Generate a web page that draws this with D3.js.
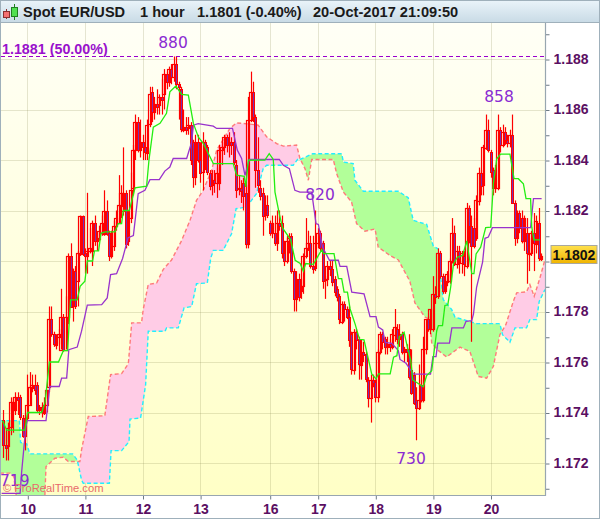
<!DOCTYPE html>
<html><head><meta charset="utf-8">
<script src="https://cdn.jsdelivr.net/npm/d3@7/dist/d3.min.js"></script>
<style>html,body{margin:0;padding:0;background:#fff;overflow:hidden}svg{display:block}text{font-family:"Liberation Sans",Arial,sans-serif}</style>
</head><body><svg id="c" width="600" height="519"></svg>
<script>
// Prices are in units of 0.0001 (11737 = 1.1737). Bars run hour by hour, first bar index -10.
const firstBar=-10;
const opens=[11737,11727,11727,11734,11741,11741,11746,11746,11738,11731,11738,11743,11750,11751,11751,11741,11742,11740,11743,11750,11777,11771,11767,11770,11765,11778,11765,11778,11802,11782,11796,11792,11803,11818,11803,11802,11804,11804,11815,11808,11809,11811,11811,11820,11811,11802,11806,11814,11815,11822,11820,11827,11808,11817,11829,11844,11855,11844,11847,11845,11843,11854,11867,11859,11862,11862,11865,11866,11874,11871,11876,11873,11878,11870,11868,11852,11853,11853,11854,11847,11833,11847,11840,11835,11847,11845,11835,11830,11832,11831,11831,11844,11845,11849,11846,11847,11847,11838,11829,11829,11831,11827,11807,11856,11867,11857,11836,11829,11827,11818,11822,11815,11811,11811,11807,11815,11815,11803,11800,11808,11810,11796,11785,11793,11788,11790,11802,11805,11807,11798,11797,11807,11811,11807,11793,11793,11798,11797,11793,11789,11786,11776,11783,11781,11778,11771,11757,11772,11769,11759,11764,11763,11753,11746,11753,11752,11746,11764,11771,11769,11766,11767,11766,11771,11773,11769,11771,11764,11765,11765,11757,11755,11745,11742,11751,11745,11765,11777,11773,11773,11787,11786,11803,11794,11788,11792,11792,11800,11811,11799,11804,11799,11802,11798,11821,11814,11813,11809,11824,11835,11830,11845,11852,11843,11836,11829,11829,11852,11846,11851,11848,11847,11850,11823,11809,11819,11817,11808,11811,11803,11803,11811,11807,11815,11801];
const highs=[11741,11733,11736,11746,11746,11748,11748,11747,11739,11739,11755,11756,11755,11755,11752,11743,11744,11746,11749,11782,11782,11772,11771,11773,11789,11779,11786,11803,11807,11797,11798,11804,11818,11818,11805,11827,11813,11816,11818,11811,11814,11818,11828,11824,11812,11812,11816,11820,11834,11830,11845,11828,11820,11835,11846,11858,11857,11856,11850,11848,11856,11869,11869,11865,11868,11866,11872,11876,11875,11877,11878,11881,11881,11871,11869,11860,11857,11857,11855,11848,11850,11850,11847,11851,11848,11846,11836,11836,11836,11837,11846,11847,11850,11850,11851,11849,11851,11840,11834,11832,11833,11830,11865,11875,11871,11858,11849,11832,11829,11826,11826,11816,11818,11818,11820,11820,11818,11808,11810,11811,11811,11797,11796,11795,11793,11803,11817,11812,11810,11810,11820,11813,11812,11808,11794,11800,11800,11800,11794,11790,11787,11784,11784,11782,11782,11772,11773,11773,11770,11769,11768,11764,11754,11755,11755,11753,11765,11772,11772,11770,11770,11769,11773,11781,11775,11775,11772,11766,11767,11771,11765,11756,11750,11759,11753,11770,11777,11778,11781,11794,11790,11805,11804,11795,11793,11796,11801,11817,11814,11806,11806,11804,11804,11823,11822,11818,11817,11826,11837,11836,11846,11858,11856,11844,11837,11838,11858,11853,11854,11853,11850,11852,11858,11824,11820,11820,11820,11818,11817,11809,11812,11819,11818,11821,11803];
const lows=[11722,11721,11721,11731,11732,11739,11739,11737,11730,11725,11737,11743,11748,11747,11740,11739,11738,11739,11740,11748,11770,11766,11765,11767,11765,11764,11765,11775,11782,11776,11781,11782,11802,11802,11795,11795,11803,11798,11806,11804,11808,11810,11810,11810,11800,11801,11804,11812,11815,11817,11818,11805,11806,11815,11826,11840,11843,11841,11840,11840,11840,11853,11855,11856,11858,11858,11858,11860,11868,11869,11870,11871,11868,11856,11851,11851,11850,11850,11838,11829,11830,11839,11831,11828,11836,11834,11828,11826,11827,11825,11828,11838,11842,11843,11841,11842,11838,11825,11826,11823,11820,11805,11805,11855,11855,11829,11827,11824,11810,11816,11817,11810,11809,11806,11804,11812,11801,11798,11799,11803,11795,11780,11780,11784,11785,11787,11801,11804,11797,11795,11796,11805,11804,11789,11785,11790,11794,11790,11786,11784,11775,11775,11776,11777,11766,11755,11755,11765,11753,11753,11760,11752,11742,11736,11750,11744,11744,11763,11765,11763,11763,11764,11765,11768,11767,11766,11763,11760,11760,11753,11747,11743,11729,11741,11744,11744,11763,11772,11771,11772,11783,11785,11793,11787,11787,11790,11791,11799,11798,11797,11795,11795,11794,11797,11807,11768,11805,11808,11822,11826,11826,11844,11843,11833,11826,11827,11828,11843,11845,11846,11845,11845,11823,11806,11807,11811,11807,11804,11791,11796,11802,11796,11803,11800,11800];
const closes=[11727,11726,11734,11744,11744,11746,11745,11738,11731,11738,11743,11750,11751,11749,11741,11742,11740,11743,11749,11777,11771,11767,11770,11771,11778,11765,11778,11802,11782,11796,11782,11803,11818,11803,11802,11804,11805,11815,11808,11809,11812,11815,11820,11811,11802,11811,11814,11817,11822,11827,11827,11807,11817,11828,11844,11855,11844,11847,11845,11843,11854,11866,11859,11862,11861,11865,11864,11874,11871,11876,11873,11878,11870,11869,11852,11853,11852,11854,11840,11833,11847,11840,11835,11847,11845,11835,11830,11832,11831,11835,11844,11845,11849,11846,11847,11846,11839,11828,11829,11828,11826,11807,11856,11867,11857,11836,11830,11826,11818,11822,11818,11811,11815,11807,11815,11814,11803,11800,11808,11809,11796,11785,11793,11786,11790,11802,11805,11807,11798,11797,11807,11811,11805,11792,11793,11798,11797,11792,11788,11786,11777,11783,11781,11778,11769,11757,11772,11769,11759,11764,11763,11753,11746,11753,11752,11746,11764,11771,11768,11766,11767,11766,11771,11774,11769,11771,11764,11765,11764,11754,11748,11744,11742,11745,11745,11765,11777,11773,11781,11787,11786,11803,11794,11788,11792,11795,11800,11811,11799,11804,11801,11803,11799,11821,11814,11806,11806,11824,11835,11830,11845,11852,11844,11835,11829,11836,11852,11846,11851,11848,11847,11850,11823,11809,11819,11813,11808,11817,11803,11803,11811,11807,11816,11801,11802];

const tickDays=["10","11","12","13","16","17","18","19","20"];
const tickBars=[0,24,48,72,101,121,145,169,193];
const priceTicks=[1.171,1.172,1.173,1.174,1.175,1.176,1.177,1.178,1.179,1.180,1.181,1.182,1.183,1.184,1.185,1.186,1.187,1.188,1.189];
const priceLabels=[1.172,1.174,1.176,1.178,1.182,1.184,1.186,1.188];

const tenkanBar=[-10.3,-8.6,-1,0.1,6,7.4,9.2,13,15,16.8,18,20.8,22,24,25,27.2,28,29.7,30.7,32.4,36.5,37.9,39.3,40,42.5,44.9,49.7,50.7,52.5,55.3,58,59.4,61.9,64.3,67.1,69.2,71.3,73.4,77.5,85.8,87.2,90.4,91,92.1,99,100.8,102.5,103.2,105,106.4,109.7,111.6,113.7,115,116,119.2,121.3,122.7,123.4,127.8,129.6,131,132,133.4,134.5,136.6,138.4,140.3,143.5,145.3,146.3,151.2,152.6,154,155,157,158.4,159.8,160.6,165,166.4,168.5,170.6,171.3,173,174,175.2,176.4,177.6,179.2,181.4,183.1,185.2,186.1,187,188.9,191,193.1,194.2,195.6,197.2,201.1,202.8,204.6,206.7,207.8,209.7,210.2,211.1,213.6];
const tenkanVal=[11736.7,11733,11733,11740,11740,11744,11760,11760,11764.5,11764.5,11784.6,11784.6,11790,11792,11800,11800,11804,11804,11811,11811.5,11811.5,11814.8,11814.8,11820,11820,11829,11829.6,11840,11853,11854.5,11858.5,11867,11869.3,11866,11865.7,11854.5,11849,11846.5,11838.6,11838.6,11834,11833.5,11829.3,11839.9,11840,11842.5,11840.2,11827.3,11818.7,11813,11808.5,11800.3,11799,11796,11799,11798.7,11802.2,11804.5,11802.9,11802.9,11793,11793,11787.7,11787.7,11781,11775,11769,11768.8,11755.3,11753.3,11755.3,11755.3,11761.9,11762.5,11770,11771.8,11765.8,11760.5,11752.9,11750.2,11754.6,11756.6,11772.4,11774.4,11774.4,11782.4,11782.6,11789.6,11798.9,11801.5,11802.2,11808,11795,11795,11802.8,11805.5,11813.2,11813.4,11830.6,11840.5,11842.3,11842.3,11832.6,11832.6,11830.6,11824.7,11824.7,11813.4,11808.4,11808.4];
const kijunBar=[-10.7,-3,-2.4,-0.6,0,7.8,9.4,13.3,14.3,16.4,17.3,20.8,22.6,25,31,33.3,34.7,37.2,39.7,42,44.2,46.2,49,51.1,55,57.3,59.4,60.8,66.4,68.5,69.2,71.2,77.5,78.9,85.5,87.5,89.3,90.7,92.5,105,106.7,109.2,111.5,113.6,118.5,120.3,121.3,123,125.9,129.6,130.3,133.1,135.2,140.3,142.8,145.3,146.3,148.1,149.1,151.9,154.6,155.3,157.8,160.9,168,169,170.3,171,175.9,176.9,181.7,182.8,185.2,185.9,187.2,189.7,190.7,192.1,193.8,209.7,210.9,214.3];
const kijunVal=[11708,11708,11716,11734.4,11736.8,11736.8,11750.3,11750.3,11753.6,11753.6,11764.9,11765.9,11772.2,11782.5,11782.7,11785.4,11794.6,11795,11801,11809.2,11810.1,11826.7,11828,11832.2,11832.2,11835.6,11837.2,11840.6,11840.6,11847.2,11853.8,11854.4,11853.4,11852.5,11852.5,11843.9,11840.6,11833.9,11840.2,11840.2,11837.9,11836.6,11828,11827.3,11827.3,11814.8,11814.5,11805.5,11800.3,11800.3,11797.9,11797.9,11787.7,11787,11778,11778,11773.8,11772.7,11767.8,11767.4,11764.5,11761,11759.5,11755.2,11755.2,11762.1,11762.1,11767.5,11767.5,11773.5,11773.5,11776.1,11776.4,11779,11789.6,11799.5,11809,11809.5,11813.2,11813.2,11824.7,11824.7];
const spanBBar=[-11.4,-3.3,-2.8,-0.3,1.1,18.9,20.8,22.6,23.3,34.2,34.9,39.3,42.4,42.8,47.2,49.3,50.4,57.4,58,62.9,65.3,68.5,70.5,75,76.4,77.5,81.6,85.1,87,91.4,95.5,98.3,99.7,110.8,112.9,113.6,118.9,131,131.7,135.8,136.5,140,154.6,158.7,160.8,166.4,169.2,171.2,171.9,173.3,176.8,178.2,187.2,196.9,198,201.1,203.2,208,209.4,212.2,213.3,215.7];
const spanBVal=[11736.8,11736.8,11728.1,11727.6,11723.6,11723.6,11721.2,11713.3,11712,11712,11724.9,11724.9,11728.5,11737.4,11737.8,11751,11772.2,11772.2,11773.5,11773.5,11781.4,11782,11791,11791.3,11801,11804.2,11804.2,11810.8,11820.7,11821.4,11826.7,11836.6,11837.9,11837.9,11840.6,11840.2,11842.5,11842.5,11839.2,11838.6,11832,11827.6,11827.6,11825.1,11816.1,11814.5,11805.8,11804.8,11796.6,11784.7,11780.8,11777.8,11775.2,11775.2,11770.8,11767.8,11773.5,11773.5,11776.8,11776.8,11784,11788.7];
const spanABar=[-11.4,-7.2,-5.6,-4.7,-4.2,7,7.4,7.8,11.5,15,17.1,21.9,22.6,25.4,32.3,34.7,39.3,42.1,43.5,47.6,48.3,50.4,53.9,56.6,60.1,64.3,67.8,70.5,73.3,76.8,78.9,84.4,87.2,92.8,96.2,99.7,103.9,106.7,112.2,113.6,115.7,117.1,118.5,127.5,128.9,131.7,135.1,137.2,140.7,144.9,146.2,151.1,154.6,159.4,161.5,165.7,167.8,168.5,171.2,174.7,180.3,184.4,187.9,191.4,194.2,196.9,199.4,202.5,203.9,208,209.4,211.2,213.6,215.7];
const spanAVal=[11716,11716,11714.6,11708,11700,11700,11709,11718.6,11721.9,11722.3,11720.6,11720.6,11725.2,11738.4,11738.7,11755,11755.4,11759.3,11775.5,11775.5,11780.8,11790.7,11791.3,11796.6,11800.4,11808.1,11816.1,11824,11828,11835.9,11843.9,11852.5,11854.7,11854.2,11853.8,11849.2,11846.5,11845.5,11845.9,11840.6,11836.6,11832,11840.2,11840.2,11834.6,11827.3,11823.4,11814.8,11811.8,11812.7,11805.5,11802.2,11800.4,11792,11783.4,11777.8,11776.8,11767.5,11764.6,11762,11765.9,11764.2,11754.3,11753.6,11758.3,11770.8,11774.8,11784,11787.4,11787.8,11790.7,11786,11793.3,11800.6];

const notes=[["880",173,47.5],["858",499,101.5],["820",320,199.5],["730",411,463.5],["719",0,486]];
const lastPrice=1.1802, retrace=1.1881;

const svg=d3.select("#c"), L=1, R=545, T=23, B=495;
const x=d3.scaleLinear().domain([0,193]).range([27.3,490.5]);
const y=d3.scaleLinear().domain([1.188,1.172]).range([59,463]);
const p=v=>y(v/1e4);
const defs=svg.append("defs");
const g1=defs.append("linearGradient").attr("id","bg").attr("x1",0).attr("x2",0).attr("y1",0).attr("y2",1);
g1.append("stop").attr("offset",0).attr("stop-color","#fffff6");g1.append("stop").attr("offset",1).attr("stop-color","#ffffc6");
const g2=defs.append("linearGradient").attr("id","hd").attr("x1",0).attr("x2",0).attr("y1",0).attr("y2",1);
g2.append("stop").attr("offset",0).attr("stop-color","#eaf4fa");g2.append("stop").attr("offset",1).attr("stop-color","#c9dbe6");
const g3=defs.append("linearGradient").attr("id","tag").attr("x1",0).attr("x2",0).attr("y1",0).attr("y2",1);
g3.append("stop").attr("offset",0).attr("stop-color","#ffe14d");g3.append("stop").attr("offset",1).attr("stop-color","#f0b400");
defs.append("clipPath").attr("id","plot").append("rect").attr("x",L).attr("y",T).attr("width",R-L).attr("height",B-T);

svg.append("rect").attr("x",L).attr("y",T).attr("width",R-L).attr("height",B-T).attr("fill","url(#bg)");
// grid
const grid=svg.append("g").attr("stroke","#8a8a50").attr("stroke-opacity",.22).attr("stroke-width",1);
grid.selectAll(".v").data(tickBars).join("line").attr("x1",d=>Math.round(x(d))+.5).attr("x2",d=>Math.round(x(d))+.5).attr("y1",T).attr("y2",B);
grid.selectAll(".h").data(d3.range(1.172,1.1881,.002)).join("line").attr("x1",L).attr("x2",R).attr("y1",d=>Math.round(y(d))+.5).attr("y2",d=>Math.round(y(d))+.5);

// cloud
const sA=d3.scaleLinear().domain(spanABar).range(spanAVal);
const sB=d3.scaleLinear().domain(spanBBar).range(spanBVal);
const merged=Array.from(new Set(spanABar.concat(spanBBar))).sort(d3.ascending);
const above=d3.area().x(d=>x(d)).y0(T-10).y1(d=>p(sB(d)));
const below=d3.area().x(d=>x(d)).y0(B+50).y1(d=>p(sB(d)));
defs.append("clipPath").attr("id","aboveB").append("path").attr("d",above(merged));
defs.append("clipPath").attr("id","belowB").append("path").attr("d",below(merged));
const band=d3.area().x(d=>x(d)).y0(d=>p(sA(d))).y1(d=>p(sB(d)));
const plot=svg.append("g").attr("clip-path","url(#plot)");
plot.append("g").attr("clip-path","url(#aboveB)").append("path").attr("d",band(merged)).attr("fill","#ffcce6");
plot.append("g").attr("clip-path","url(#belowB)").append("path").attr("d",band(merged)).attr("fill","#b2ff99");
const ln=d3.line().x(d=>x(d[0])).y(d=>p(d[1]));
plot.append("path").attr("d",ln(d3.zip(spanABar,spanAVal))).attr("fill","none").attr("stroke","#ff7a7a").attr("stroke-width",1.4).attr("stroke-dasharray","4,2.5");
plot.append("path").attr("d",ln(d3.zip(spanBBar,spanBVal))).attr("fill","none").attr("stroke","#22eeff").attr("stroke-width",1.4).attr("stroke-dasharray","4,2.5");

// candles
const snap=v=>Math.round(v)+.5;
const bars=opens.map((o,k)=>({i:firstBar+k,o,h:highs[k],l:lows[k],c:closes[k]}));
const cg=plot.append("g");
cg.selectAll("line").data(bars).join("line").attr("x1",d=>snap(x(d.i))).attr("x2",d=>snap(x(d.i))).attr("y1",d=>p(d.h)).attr("y2",d=>p(d.l)).attr("stroke","#ff0000").attr("stroke-width",1.2);
// rising bodies first, so the falling bodies' purple centres stay visible on top
const rising=bars.filter(d=>d.c>=d.o), falling=bars.filter(d=>d.c<d.o);
const bodyY=d=>snap(p(Math.max(d.o,d.c))), bodyH=d=>Math.max(1,Math.round(Math.abs(p(d.o)-p(d.c))));
cg.selectAll(".up").data(rising).join("rect").attr("x",d=>snap(x(d.i))-2).attr("width",3).attr("y",bodyY).attr("height",bodyH).attr("fill","none").attr("stroke","#ff0000").attr("stroke-width",1.2);
cg.selectAll(".dn").data(falling).join("rect").attr("x",d=>snap(x(d.i))-1).attr("width",2).attr("y",bodyY).attr("height",bodyH).attr("fill","#7a2fb0").attr("stroke","#ff0000").attr("stroke-width",1);

// indicator lines
plot.append("path").attr("d",ln(d3.zip(kijunBar,kijunVal))).attr("fill","none").attr("stroke","#9933cc").attr("stroke-width",1.3);
plot.append("path").attr("d",ln(d3.zip(tenkanBar,tenkanVal))).attr("fill","none").attr("stroke","#22ee11").attr("stroke-width",1.3);

// retracement line
svg.append("line").attr("x1",L).attr("x2",R).attr("y1",snap(y(retrace))).attr("y2",snap(y(retrace))).attr("stroke","#9900cc").attr("stroke-dasharray","4,3");
svg.append("text").attr("x",2).attr("y",53.5).attr("font-size",14.3).attr("font-weight","bold").attr("fill","#9911cc").text("1.1881 (50.00%)");
svg.selectAll(".note").data(notes).join("text").attr("x",d=>d[1]).attr("y",d=>d[2]).attr("text-anchor",d=>d[1]<5?"start":"middle").style("font-family","'DejaVu Sans'").attr("font-size",15.5).attr("fill","#8a2bd2").text(d=>d[0]);
svg.append("text").attr("x",3).attr("y",492).attr("font-size",11.2).attr("fill","#e86a6a").text("© ProRealTime.com");

// axes
const ya=d3.axisRight(y).tickValues(priceTicks).tickSize(4).tickFormat(d=>priceLabels.some(v=>Math.abs(v-d)<1e-6)?d3.format(".3f")(d):"");
const ag=svg.append("g").attr("transform",`translate(${R+.5},0)`).call(ya);
ag.select(".domain").remove();
ag.selectAll("line").attr("stroke","#6d7a84").attr("y1",.5).attr("y2",.5);
ag.selectAll("text").attr("x",8).attr("font-size",14).attr("font-weight","bold").attr("fill","#5b0f62").attr("dy",".3em");
const xa=d3.axisBottom(d3.scaleLinear().domain([0,193]).range([27.3,490.5])).tickValues(tickBars).tickSize(4).tickFormat((d,k)=>tickDays[k]);
const bg=svg.append("g").attr("transform",`translate(0.5,${B+.5})`).call(xa);
bg.select(".domain").remove();
bg.selectAll("line").attr("stroke","#6d7a84");
bg.selectAll("text").attr("y",8.5).attr("font-size",14).attr("font-weight","bold").attr("fill","#5b0f62");
svg.append("path").attr("d",`M${L},${B+.5}H${R+.5}V${T}`).attr("fill","none").attr("stroke","#98a6b0").attr("stroke-width",1.2);

// last price tag
svg.append("rect").attr("x",551).attr("y",245.5).attr("width",46).attr("height",18).attr("fill","url(#tag)").attr("stroke","#a8a8a0");
svg.append("text").attr("x",574).attr("y",259.5).attr("text-anchor","middle").attr("font-size",14).attr("font-weight","bold").attr("fill","#111").text(d3.format(".4f")(lastPrice));

// header
svg.append("rect").attr("width",600).attr("height",22).attr("fill","url(#hd)");
svg.append("line").attr("x1",0).attr("x2",600).attr("y1",22.5).attr("y2",22.5).attr("stroke","#9fb0bb");
svg.append("path").attr("d","M0.5,0V519M599.5,0V519M0,518.5H600M0,.5H600").attr("fill","none").attr("stroke","#9fb0bb");
svg.append("path").attr("d","M6.5,9V19").attr("stroke","#8a3030");
svg.append("rect").attr("x",3.5).attr("y",11.5).attr("width",6).attr("height",6).attr("fill","#f47070").attr("stroke","#8a3030");
svg.append("path").attr("d","M14.5,4V20").attr("stroke","#208020");
svg.append("rect").attr("x",11.5).attr("y",7.5).attr("width",6).attr("height",9).attr("fill","#50e050").attr("stroke","#208020");
const hdr=[["Spot EUR/USD",23],["1 hour",140],["1.1801 (-0.40%)",197],["20-Oct-2017 21:09:50",313]];
svg.selectAll(".hdr").data(hdr).join("text").attr("x",d=>d[1]).attr("y",17).attr("font-size",14.6).attr("font-weight","bold").attr("fill","#1a1a1a").text(d=>d[0]);
</script></body></html>
